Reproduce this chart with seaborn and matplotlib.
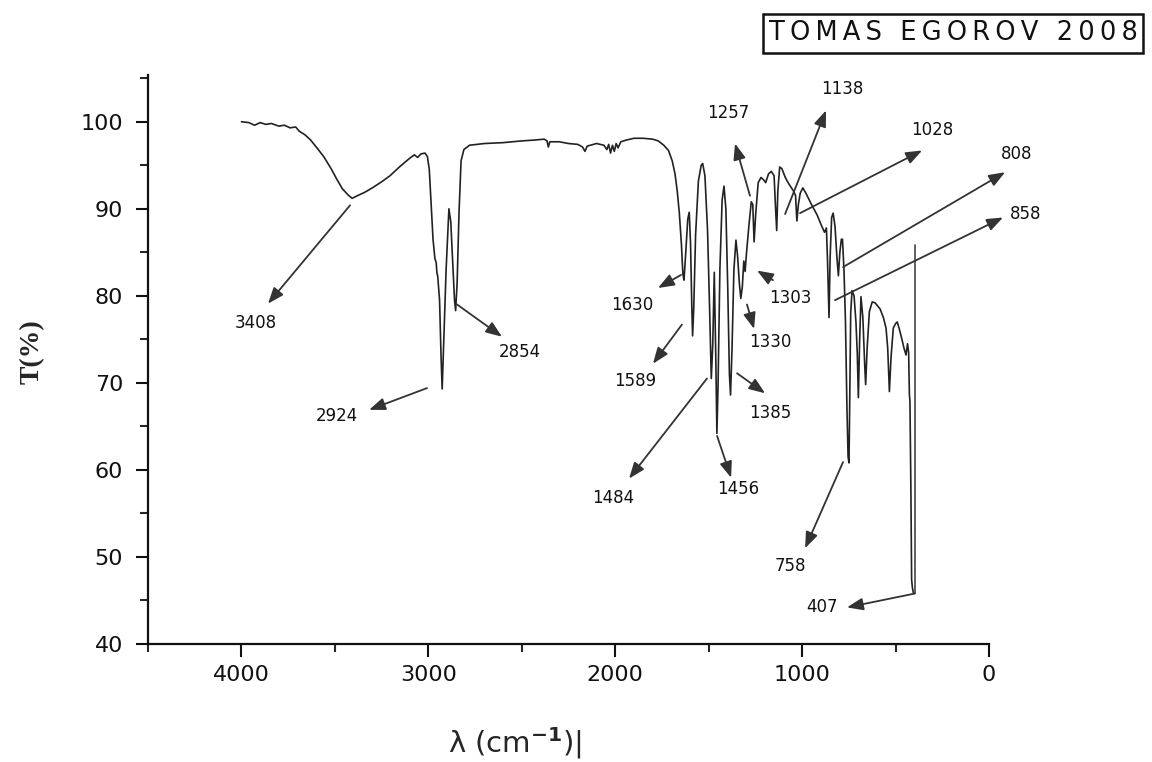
import numpy as np
import pandas as pd
import seaborn as sns
import matplotlib.pyplot as plt
from matplotlib.patches import Rectangle

#spectrum (wavenumber in cm-1, transmittance in %)
wavenumber = [4000, 3960, 3930, 3900, 3870, 3840, 3800, 3770, 3740, 3710, 3690, 3660, 3630, 3600,
              3560, 3520, 3490, 3460, 3430, 3408, 3380, 3340, 3300, 3250, 3205, 3150, 3100, 3075,
              3057, 3040, 3018, 3005, 2995, 2985, 2975, 2965, 2958, 2954, 2950, 2940, 2932, 2926,
              2918, 2905, 2890, 2880, 2870, 2860, 2854, 2846, 2836, 2825, 2810, 2780, 2700, 2600,
              2500, 2430, 2380, 2365, 2358, 2350, 2300, 2250, 2200, 2175, 2162, 2150, 2100, 2060,
              2045, 2035, 2025, 2015, 2005, 1995, 1985, 1970, 1940, 1900, 1850, 1800, 1770, 1740,
              1715, 1695, 1680, 1668, 1657, 1646, 1638, 1632, 1624, 1612, 1604, 1597, 1590, 1586,
              1580, 1570, 1555, 1540, 1532, 1520, 1506, 1495, 1486, 1478, 1470, 1462, 1456, 1450,
              1440, 1428, 1418, 1408, 1398, 1389, 1383, 1375, 1365, 1354, 1345, 1336, 1328, 1320,
              1312, 1305, 1298, 1285, 1272, 1264, 1257, 1248, 1235, 1220, 1205, 1195, 1180, 1165,
              1150, 1143, 1136, 1130, 1120, 1108, 1090, 1075, 1060, 1045, 1035, 1028, 1020, 1010,
              996, 980, 950, 920, 895, 880, 870, 864, 856, 850, 842, 834, 824, 814, 806, 798, 790,
              784, 776, 768, 760, 754, 749, 745, 740, 733, 722, 712, 705, 699, 692, 685, 675, 665,
              660, 652, 640, 625, 610, 595, 583, 565, 551, 542, 533, 524, 512, 500, 491, 480, 467,
              455, 444, 436, 430, 426, 423, 418, 414, 410, 405]
transmittance = [100.0, 99.9, 99.6, 99.9, 99.7, 99.8, 99.5, 99.6, 99.3, 99.4, 98.9, 98.5, 97.9, 97.1,
                 96.0, 94.6, 93.4, 92.3, 91.6, 91.2, 91.5, 91.9, 92.4, 93.1, 93.8, 94.9, 95.8, 96.2,
                 95.9, 96.3, 96.4, 96.0, 94.5, 90.5, 86.5, 84.3, 83.8, 82.6, 82.3, 79.5, 73.0, 69.3,
                 74.5, 83.0, 90.0, 88.5, 84.0, 79.5, 78.3, 81.5, 89.5, 95.5, 96.8, 97.3, 97.5, 97.6,
                 97.8, 97.9, 98.0, 97.8, 97.1, 97.7, 97.7, 97.5, 97.4, 97.1, 96.6, 97.2, 97.5, 97.3,
                 96.8, 97.4, 96.4, 97.3, 96.6, 97.5, 97.0, 97.7, 97.9, 98.1, 98.1, 98.0, 97.8, 97.3,
                 96.7, 95.5, 94.0, 92.0, 89.5, 86.0, 82.5, 81.8, 84.5, 88.8, 89.6, 86.0, 78.5, 75.4,
                 78.5, 87.0, 93.2, 95.0, 95.2, 93.8, 87.5, 78.5, 70.5, 74.5, 82.7, 73.0, 64.2, 69.5,
                 83.0, 91.0, 92.6, 90.0, 81.0, 71.0, 68.6, 74.0, 83.0, 86.4, 84.5, 81.5, 79.7, 81.0,
                 84.0, 82.8, 84.8, 88.0, 90.8, 90.5, 86.2, 89.5, 93.0, 93.6, 93.3, 93.0, 94.0, 94.3,
                 93.8, 90.5, 87.5, 92.0, 94.8, 94.6, 93.6, 93.0, 92.5, 92.0, 91.5, 88.6, 90.5, 91.8,
                 92.4, 91.8, 90.5, 89.3, 88.0, 87.3, 87.8, 84.0, 77.5, 84.5, 89.0, 89.5, 88.0, 84.5,
                 82.3, 85.0, 86.5, 86.5, 83.0, 77.0, 67.0, 61.5, 60.8, 68.0, 78.0, 80.6, 80.0, 77.0,
                 73.5, 68.3, 75.0, 79.9, 77.5, 72.0, 69.8, 74.0, 78.2, 79.3, 79.2, 78.8, 78.5, 77.5,
                 76.3, 74.0, 69.0, 73.0, 76.3, 76.8, 77.0, 76.2, 75.1, 74.0, 73.2, 74.5, 73.5, 68.7,
                 67.9, 58.0, 47.4, 46.5, 45.9]

#peak labels: text, arrow tail (near the band), arrow head, label centre
peak_labels = ["3408", "2924", "2854", "1630", "1589", "1484", "1456", "1385", "1330",
               "1303", "1257", "1138", "1028", "808", "858", "758", "407"]
arrow_tail = [(3419, 90.4), (3007, 69.4), (2846, 79.0), (1648, 82.4), (1643, 76.7),
              (1509, 70.5), (1455, 63.9), (1348, 71.1), (1295, 79.0), (1156, 81.8),
              (1279, 91.5), (1091, 89.4), (1011, 89.5), (781, 83.3), (824, 79.5),
              (781, 60.9), (396, 45.8)]
arrow_head = [(3858, 79.1), (3317, 66.9), (2606, 75.3), (1771, 80.9), (1798, 72.2),
              (1926, 59.0), (1380, 59.1), (1198, 68.8), (1257, 76.2), (1241, 82.9),
              (1359, 97.5), (872, 101.3), (358, 96.7), (-86, 94.2), (-75, 89.0),
              (984, 51.0), (760, 44.2)]
label_pos = [(3922, 76.9), (3488, 66.2), (2509, 73.6), (1910, 78.9), (1894, 70.2),
             (2012, 56.8), (1343, 57.8), (1172, 66.5), (1172, 74.7), (1065, 79.8),
             (1396, 101.0), (787, 103.8), (305, 99.0), (-150, 96.3), (-198, 89.4),
             (1065, 49.0), (893, 44.2)]

spectrum = pd.DataFrame({"wavenumber": wavenumber, "T": transmittance})

sns.set_style("ticks")
plt.rcParams["font.family"] = ["DejaVu Sans"]

fig = plt.figure(figsize=(11.52, 7.62), dpi=100)
ax = fig.add_axes([0.1285, 0.1549, 0.7300, 0.7470])

sns.lineplot(data=spectrum, x="wavenumber", y="T", ax=ax, color="#222222",
             lw=1.2, estimator=None, sort=False)

#vertical leader line down to the 407 arrow
ax.plot([396, 396], [85.8, 45.8], color="#444444", lw=1.2, clip_on=False)

for lab, tail, head, pos in zip(peak_labels, arrow_tail, arrow_head, label_pos):
    ax.annotate("", xy=head, xytext=tail, annotation_clip=False,
                arrowprops=dict(arrowstyle="-|>,head_length=0.65,head_width=0.25",
                                mutation_scale=15, color="#333333", lw=1.3,
                                shrinkA=0, shrinkB=0))
    ax.text(pos[0], pos[1], lab, ha="center", va="center", fontsize=12, color="#111111")

#axes
ax.set_xlim(4500, 0)
ax.set_ylim(40, 105.4)
ax.set_xticks([4000, 3000, 2000, 1000, 0])
ax.set_xticks([4500, 3500, 2500, 1500, 500], minor=True)
ax.set_yticks([40, 50, 60, 70, 80, 90, 100])
ax.set_yticks([45, 55, 65, 75, 85, 95, 105], minor=True)
ax.tick_params(which="major", length=9, width=1.5, labelsize=16, pad=6, colors="#111111")
ax.tick_params(which="minor", length=5.5, width=1.5)
ax.tick_params(axis="y", which="major", pad=9)
sns.despine(ax=ax)
for s in ["left", "bottom"]:
    ax.spines[s].set_linewidth(1.6)
    ax.spines[s].set_color("#111111")
ax.set_xlabel("")
ax.set_ylabel("")

#axis titles
fig.text(32 / 1152, 1 - 352 / 762, "T(%)", rotation=90, ha="center", va="center",
         fontsize=20, fontweight="bold", family="Liberation Serif")
fig.text(515 / 1152, 1 - 743 / 762, r"λ (cm$^{\mathbf{-1}}$)|", ha="center", va="center",
         fontsize=21)

#name box in the top right corner
fig.patches.append(Rectangle((763 / 1152, 1 - 53 / 762), 380 / 1152, 39 / 762,
                             transform=fig.transFigure, fill=False, ec="#111111", lw=1.8))
t = "\u2009"
name = t.join("TOMAS") + t + " " + t + t.join("EGOROV") + t + " " + t + t.join("2008")
fig.text(953 / 1152, 1 - 33.5 / 762, name, ha="center", va="center", fontsize=18.5,
         color="#111111")

plt.savefig("out.png", dpi=100)
